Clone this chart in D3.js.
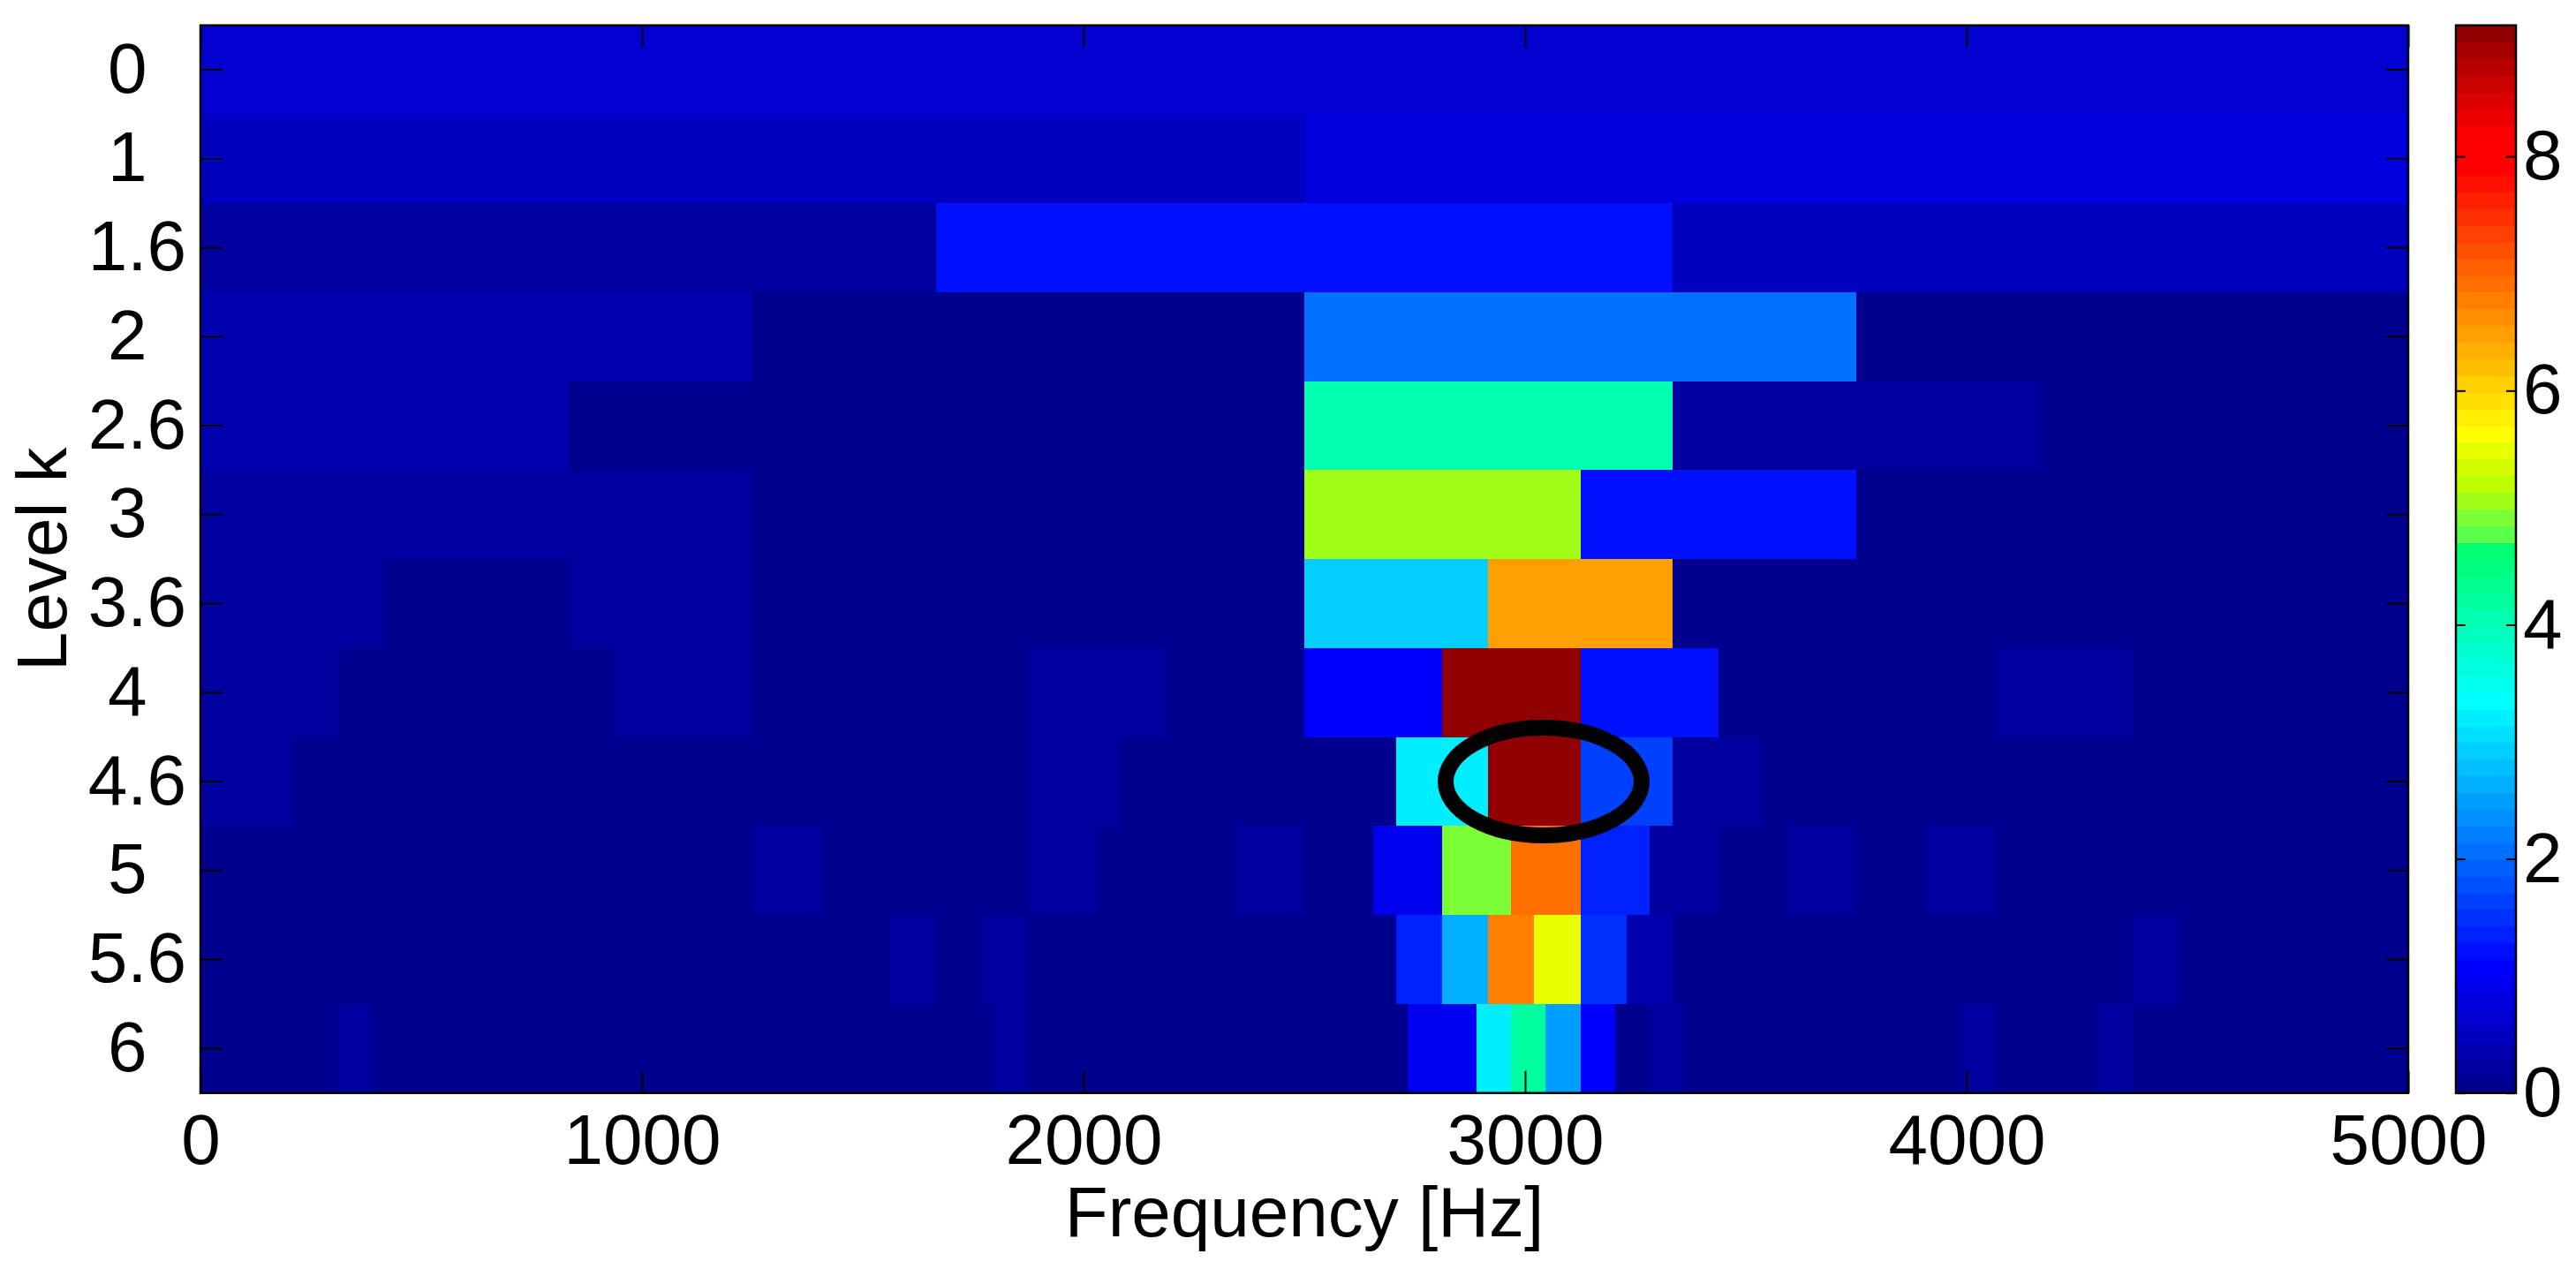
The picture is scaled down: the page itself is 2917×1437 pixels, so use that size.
<!DOCTYPE html>
<html>
<head>
<meta charset="utf-8">
<script src="https://cdn.jsdelivr.net/npm/d3@7/dist/d3.min.js"></script>
<style>
  html, body { margin: 0; padding: 0; background: #ffffff; }
  svg { display: block; }
  text { font-family: "Liberation Sans", Arial, Helvetica, sans-serif; fill: #000; }
</style>
</head>
<body>
<svg id="chart" width="2917" height="1437"></svg>
<script>
// ---------------- data ----------------
const levelLabels = ["0", "1", "1.6", "2", "2.6", "3", "3.6", "4", "4.6", "5", "5.6", "6"];
const freqTicks = [0, 1000, 2000, 3000, 4000, 5000];
const colorbarTicks = [0, 2, 4, 6, 8];
const freqMax = 5000;
const kurtMax = 9.12;

const kLevel0 = [0.66];
const kLevel1 = [0.52, 0.80];
const kLevel1_6 = [0.22, 1.19, 0.51];
const kLevel2 = [0.37, 0.09, 2.07, 0.08];
const kLevel2_6 = [0.36, 0.07, 0.10, 4.06, 0.22, 0.09];
const kLevel3 = [0.24, 0.22, 0.06, 0.08, 5.06, 1.19, 0.07, 0.05];
const kLevel3_6 = [0.25, 0.12, 0.24, 0.06, 0.05, 0.08, 2.92, 6.48, 0.07, 0.06, 0.05, 0.08];
const kLevel4 = [0.22, 0.08, 0.06, 0.21, 0.05, 0.07, 0.23, 0.09, 1.05, 9.05, 1.20, 0.07, 0.06, 0.20, 0.08, 0.05];
const kLevel4_6 = [0.21, 0.08, 0.07, 0.09, 0.06, 0.08, 0.05, 0.07, 0.09, 0.22, 0.08, 0.06,
                   0.10, 3.21, 9.12, 1.64, 0.20, 0.09, 0.07, 0.08, 0.06, 0.05, 0.07, 0.06];
const kLevel5 = [0.06, 0.08, 0.07, 0.05, 0.09, 0.06, 0.08, 0.07, 0.21, 0.08, 0.06, 0.09,
                 0.23, 0.07, 0.10, 0.20, 0.11, 0.93, 4.92, 6.91, 1.35, 0.16, 0.09, 0.20,
                 0.08, 0.20, 0.07, 0.06, 0.08, 0.05, 0.07, 0.06];
const kLevel5_6 = [0.07, 0.05, 0.08, 0.06, 0.09, 0.07, 0.05, 0.06, 0.08, 0.07, 0.09, 0.06,
                   0.05, 0.08, 0.07, 0.22, 0.09, 0.24, 0.06, 0.08, 0.07, 0.05, 0.09, 0.06,
                   0.08, 0.10, 1.35, 2.64, 6.77, 5.48, 1.48, 0.36, 0.08, 0.06, 0.07, 0.09,
                   0.05, 0.08, 0.06, 0.07, 0.09, 0.05, 0.22, 0.07, 0.06, 0.08, 0.05, 0.07];
const kLevel6 = [0.06, 0.08, 0.05, 0.07, 0.22, 0.06, 0.09, 0.07, 0.05, 0.08, 0.06, 0.07,
                 0.09, 0.05, 0.08, 0.06, 0.07, 0.09, 0.05, 0.08, 0.06, 0.07, 0.10, 0.24,
                 0.06, 0.08, 0.05, 0.07, 0.09, 0.06, 0.08, 0.05, 0.07, 0.09, 0.11, 0.95,
                 0.95, 3.21, 4.20, 2.49, 1.07, 0.10, 0.22, 0.08, 0.06, 0.07, 0.05, 0.09,
                 0.06, 0.08, 0.07, 0.20, 0.05, 0.08, 0.06, 0.22, 0.07, 0.09, 0.05, 0.06,
                 0.08, 0.07, 0.05, 0.06];

// highlighted maximum (ellipse): centre frequency, level index, radii
const markFreq = 3042;
const markLevelIndex = 8;
const markRadiusHz = 222;
const markRadiusRows = 0.605;

// ---------------- colour map (jet-like, 64 steps, as in picture) ----------------
function stepColor(i) { // i = 1..64
  const r255 = v => Math.round(255 * v);
  if (i <= 8) return [0, 0, r255(0.5 + i / 16)];
  if (i <= 24) return [0, r255((i - 8) / 16), 255];
  if (i <= 33) return [0, 255, r255(1 - (i - 24) / 16)];
  const yg = {34: [90, 255, 75], 35: [125, 255, 55], 36: [160, 255, 25], 37: [190, 255, 0], 38: [210, 255, 0], 39: [232, 255, 0]};
  if (i <= 39) return yg[i];
  if (i <= 56) return [255, r255(1 - (i - 40) / 16), 0];
  const reds = {57: 255, 58: 250, 59: 237, 60: 220, 61: 200, 62: 185, 63: 165, 64: 145};
  return [reds[i], 0, 0];
}
const nSteps = 64;
const palette = d3.range(1, nSteps + 1).map(i => { const c = stepColor(i); return `rgb(${c[0]},${c[1]},${c[2]})`; });
function colorOf(v) {
  let idx = Math.floor(v / kurtMax * nSteps);
  idx = Math.max(0, Math.min(nSteps - 1, idx));
  return palette[idx];
}

// ---------------- layout ----------------
const svg = d3.select("#chart");
const plotL = 227, plotR = 2727, plotT = 28.7, plotB = 1237.7;
const cbL = 2781, cbR = 2849;
const fontSize = 80;
const tickLen = 25;

const x = d3.scaleLinear().domain([0, freqMax]).range([plotL, plotR]);
const y = d3.scaleBand().domain(d3.range(levelLabels.length)).range([plotT, plotB]).padding(0);

const rows = [kLevel0, kLevel1, kLevel1_6, kLevel2, kLevel2_6, kLevel3, kLevel3_6,
              kLevel4, kLevel4_6, kLevel5, kLevel5_6, kLevel6];

const cells = [];
rows.forEach((vals, r) => {
  const n = vals.length;
  vals.forEach((v, j) => cells.push({ r, f0: j * freqMax / n, f1: (j + 1) * freqMax / n, v }));
});

const gCells = svg.append("g").attr("shape-rendering", "crispEdges");
gCells.selectAll("rect").data(cells).join("rect")
  .attr("x", d => x(d.f0))
  .attr("width", d => x(d.f1) - x(d.f0) + 0.5)
  .attr("y", d => y(d.r))
  .attr("height", y.bandwidth() + 0.5)
  .attr("fill", d => colorOf(d.v));

// ellipse marking the maximum
svg.append("ellipse")
  .attr("cx", x(markFreq))
  .attr("cy", y(markLevelIndex) + y.bandwidth() / 2)
  .attr("rx", x(markRadiusHz) - x(0))
  .attr("ry", markRadiusRows * y.bandwidth())
  .attr("fill", "none")
  .attr("stroke", "#000")
  .attr("stroke-width", 18);

// ---------------- axes ----------------
const axisStyle = g => {
  g.selectAll("path.domain").remove();
  g.selectAll("line").attr("stroke", "#000").attr("stroke-width", 2);
  g.selectAll("text").attr("font-size", fontSize).attr("font-family", '"Liberation Sans", Arial, sans-serif');
};

// bottom
svg.append("g").attr("transform", `translate(0,${plotB})`)
  .call(d3.axisBottom(x).tickValues(freqTicks).tickFormat(d3.format("d"))
    .tickSizeInner(-tickLen).tickSizeOuter(0).tickPadding(24))
  .call(axisStyle);
// top (ticks only)
svg.append("g").attr("transform", `translate(0,${plotT})`)
  .call(d3.axisTop(x).tickValues(freqTicks).tickFormat("")
    .tickSizeInner(-tickLen).tickSizeOuter(0))
  .call(axisStyle);
// left
const yLeft = svg.append("g").attr("transform", `translate(${plotL},0)`)
  .call(d3.axisLeft(y).tickFormat(i => {
      const s = levelLabels[i];
      return s.indexOf(".") < 0 ? s + "\u00A0\u00A0" : s;
    })
    .tickSizeInner(-tickLen).tickSizeOuter(0).tickPadding(16))
  .call(axisStyle);
yLeft.selectAll("text").style("white-space", "pre");
// right (ticks only)
svg.append("g").attr("transform", `translate(${plotR},0)`)
  .call(d3.axisRight(y).tickFormat("").tickSizeInner(-tickLen).tickSizeOuter(0))
  .call(axisStyle);

// frame
svg.append("rect").attr("x", plotL).attr("y", plotT)
  .attr("width", plotR - plotL).attr("height", plotB - plotT)
  .attr("fill", "none").attr("stroke", "#000").attr("stroke-width", 2.5);

// axis titles
svg.append("text")
  .attr("x", (plotL + plotR) / 2).attr("y", 1400)
  .attr("text-anchor", "middle").attr("font-size", fontSize)
  .text("Frequency [Hz]");
svg.append("text")
  .attr("transform", `translate(75,${(plotT + plotB) / 2}) rotate(-90)`)
  .attr("text-anchor", "middle").attr("font-size", fontSize)
  .text("Level k");

// ---------------- colour bar ----------------
const cb = d3.scaleLinear().domain([0, kurtMax]).range([plotB, plotT]);
const cbSteps = d3.range(nSteps).map(i => ({ lo: i * kurtMax / nSteps, hi: (i + 1) * kurtMax / nSteps, c: palette[i] }));
svg.append("g").attr("shape-rendering", "crispEdges")
  .selectAll("rect").data(cbSteps).join("rect")
  .attr("x", cbL).attr("width", cbR - cbL)
  .attr("y", d => cb(d.hi)).attr("height", d => cb(d.lo) - cb(d.hi) + 0.5)
  .attr("fill", d => d.c);

svg.append("g").attr("transform", `translate(${cbR},0)`)
  .call(d3.axisRight(cb).tickValues(colorbarTicks).tickFormat(d3.format("d"))
    .tickSizeInner(-11).tickSizeOuter(0).tickPadding(8))
  .call(axisStyle);
svg.append("g").attr("transform", `translate(${cbL},0)`)
  .call(d3.axisLeft(cb).tickValues(colorbarTicks).tickFormat("")
    .tickSizeInner(-11).tickSizeOuter(0))
  .call(axisStyle);
svg.append("rect").attr("x", cbL).attr("y", plotT)
  .attr("width", cbR - cbL).attr("height", plotB - plotT)
  .attr("fill", "none").attr("stroke", "#000").attr("stroke-width", 2.5);
</script>
</body>
</html>
